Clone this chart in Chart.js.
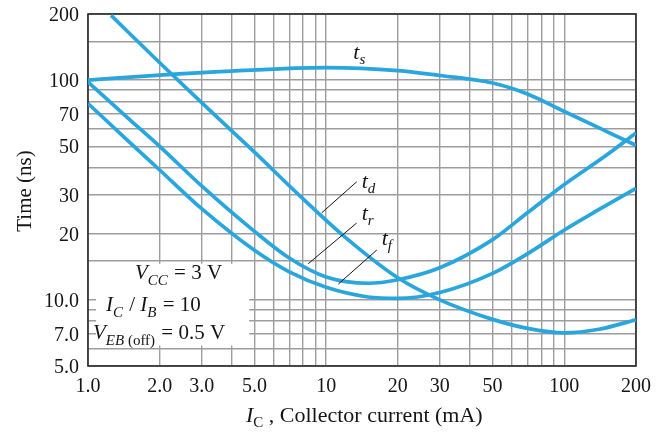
<!DOCTYPE html>
<html>
<head>
<meta charset="utf-8">
<script src="https://cdn.jsdelivr.net/npm/chart.js@4.4.1/dist/chart.umd.min.js"></script>
<style>
  html, body { margin: 0; padding: 0; background: #fff; }
  #wrap { width: 663px; height: 433px; position: relative; }
</style>
</head>
<body>
<div id="wrap"><canvas id="c" width="663" height="433"></canvas></div>
<script>
// Switching times of the transistor versus collector current, log-log axes.

// Storage time t_s
const tsCurrent = [1, 2, 4, 10, 20, 30, 50, 70, 100, 150, 200];
const tsTime    = [100, 105.5, 110, 114, 110.5, 105, 97, 86.5, 72, 58.5, 50.5];

// Delay time t_d
const tdCurrent = [1.25, 2, 3, 5, 8, 12, 20, 30, 50, 70, 100, 140, 200];
const tdTime    = [197, 120, 79, 47, 28.8, 19.3, 12.6, 10.0, 8.15, 7.42, 7.08, 7.35, 8.12];

// Rise time t_r
const trCurrent = [1, 1.5, 2, 3, 5, 7, 10, 15, 20, 30, 50, 70, 100, 150, 200];
const trTime    = [98, 66, 50, 33, 20.5, 15.5, 12.7, 11.9, 12.35, 14.0, 18.8, 24.9, 33.5, 45.5, 57.5];

// Fall time t_f
const tfCurrent = [1, 1.5, 2, 3, 5, 7, 10, 15, 20, 30, 50, 70, 100, 140, 200];
const tfTime    = [78.3, 52, 39, 26, 16.8, 13.4, 11.4, 10.3, 10.15, 10.8, 13.2, 16.2, 20.8, 25.8, 32.2];

// Grid lines and labelled ticks
const xGrid = [1, 2, 3, 4, 5, 6, 7, 8, 9, 10, 20, 30, 40, 50, 60, 70, 80, 90, 100, 200];
const yGrid = [5, 6, 7, 8, 9, 10, 15, 20, 30, 40, 50, 60, 70, 80, 90, 100, 150, 200];
const xTickValues = [1, 2, 3, 5, 10, 20, 30, 50, 100, 200];
const xTickLabels = ['1.0', '2.0', '3.0', '5.0', '10', '20', '30', '50', '100', '200'];
const yTickValues = [5, 7, 10, 20, 30, 50, 70, 100, 200];
const yTickLabels = ['5.0', '7.0', '10.0', '20', '30', '50', '70', '100', '200'];

const SERIF = '"Liberation Serif", "Times New Roman", serif';
const INK = '#151515';
const CURVE = '#2aa6de';

function points(xs, ys) { return xs.map((x, i) => ({ x: x, y: ys[i] })); }

// Draw a run of text pieces with their own fonts and vertical offsets
function richText(ctx, x, y, parts) {
  let cx = x;
  ctx.textAlign = 'left';
  ctx.textBaseline = 'alphabetic';
  for (const p of parts) {
    ctx.font = p.font;
    ctx.fillText(p.t, cx, y + (p.dy || 0));
    cx += ctx.measureText(p.t).width + (p.gap || 0);
  }
}

const it = s => 'italic ' + s + 'px ' + SERIF;
const up = s => s + 'px ' + SERIF;

const overlay = {
  id: 'overlay',
  beforeDatasetsDraw(chart) {
    const { ctx, chartArea: a, scales: { x, y } } = chart;
    ctx.save();
    // white panel behind the test conditions
    const bx0 = a.left + 8, bx1 = x.getPixelForValue(4.75);
    const by0 = y.getPixelForValue(14.6), by1 = y.getPixelForValue(6.2);
    ctx.fillStyle = '#fff';
    ctx.fillRect(bx0, by0, bx1 - bx0, by1 - by0);
    // plot frame
    ctx.strokeStyle = '#2a2a2a';
    ctx.lineWidth = 1.6;
    ctx.strokeRect(a.left, a.top, a.right - a.left, a.bottom - a.top);
    ctx.restore();
  },
  afterDatasetsDraw(chart) {
    const { ctx, chartArea: a, scales: { x, y } } = chart;
    ctx.save();
    ctx.fillStyle = INK;

    // tick labels
    ctx.font = up(20);
    ctx.textBaseline = 'alphabetic';
    ctx.textAlign = 'center';
    xTickValues.forEach((v, i) => ctx.fillText(xTickLabels[i], x.getPixelForValue(v), a.bottom + 25.5));
    ctx.textAlign = 'right';
    yTickValues.forEach((v, i) => ctx.fillText(yTickLabels[i], a.left - 9, y.getPixelForValue(v) + 7));

    // axis titles
    richText(ctx, 246, 422, [
      { t: 'I', font: it(22) },
      { t: 'C', font: up(15), dy: 5 },
      { t: ' , Collector current (mA)', font: up(22) }
    ]);
    ctx.save();
    ctx.translate(30.5, 191);
    ctx.rotate(-Math.PI / 2);
    ctx.font = up(21);
    ctx.textAlign = 'center';
    ctx.fillText('Time (ns)', 0, 0);
    ctx.restore();

    // test conditions
    richText(ctx, a.left + 47, a.top + 265, [
      { t: 'V', font: it(21) },
      { t: 'CC', font: it(15), dy: 6, gap: 1 },
      { t: ' = 3 V', font: up(21) }
    ]);
    richText(ctx, a.left + 18, a.top + 297, [
      { t: 'I', font: it(21) },
      { t: 'C', font: it(15), dy: 6, gap: 1 },
      { t: ' / ', font: up(21) },
      { t: 'I', font: it(21) },
      { t: 'B', font: it(15), dy: 6, gap: 1 },
      { t: ' = 10', font: up(21) }
    ]);
    richText(ctx, a.left + 5, a.top + 325, [
      { t: 'V', font: it(21) },
      { t: 'EB', font: it(15), dy: 6 },
      { t: ' (off)', font: up(15), dy: 6, gap: 1 },
      { t: ' = 0.5 V', font: up(21) }
    ]);

    // curve names
    const tsX = x.getPixelForValue(13.0), tsY = y.getPixelForValue(125);
    richText(ctx, tsX, tsY, [{ t: 't', font: it(22) }, { t: 's', font: it(15), dy: 5 }]);

    const leaders = [
      { end: [9.58, 24.9], off: [35, -31], txt: [5, 6], sub: 'd' },
      { end: [8.41, 14.6], off: [48.4, -40.7], txt: [5, -3], sub: 'r' },
      { end: [11.25, 11.8], off: [38.4, -34], txt: [5, -5], sub: 'f' }
    ];
    ctx.strokeStyle = INK;
    ctx.lineWidth = 1;
    for (const l of leaders) {
      const ex = x.getPixelForValue(l.end[0]), ey = y.getPixelForValue(l.end[1]);
      const sx = ex + l.off[0], sy = ey + l.off[1];
      ctx.beginPath();
      ctx.moveTo(ex, ey);
      ctx.lineTo(sx, sy);
      ctx.stroke();
      richText(ctx, sx + l.txt[0], sy + l.txt[1], [{ t: 't', font: it(22) }, { t: l.sub, font: it(15), dy: 5 }]);
    }
    ctx.restore();
  }
};

const lineStyle = {
  borderColor: CURVE,
  borderWidth: 3.7,
  pointRadius: 0,
  fill: false,
  cubicInterpolationMode: 'monotone'
};

const gridStyle = { color: '#9d9d9d', lineWidth: 1.4, drawTicks: false };

new Chart(document.getElementById('c'), {
  type: 'line',
  data: {
    datasets: [
      Object.assign({ label: 't_s', data: points(tsCurrent, tsTime) }, lineStyle),
      Object.assign({ label: 't_d', data: points(tdCurrent, tdTime) }, lineStyle),
      Object.assign({ label: 't_r', data: points(trCurrent, trTime) }, lineStyle),
      Object.assign({ label: 't_f', data: points(tfCurrent, tfTime) }, lineStyle)
    ]
  },
  options: {
    responsive: false,
    animation: false,
    devicePixelRatio: 1,
    layout: { padding: { left: 88, top: 14, right: 27, bottom: 67 } },
    plugins: { legend: { display: false }, tooltip: { enabled: false } },
    scales: {
      x: {
        type: 'logarithmic', min: 1, max: 200,
        ticks: { display: false },
        grid: gridStyle,
        border: { display: false },
        afterBuildTicks: s => { s.ticks = xGrid.map(v => ({ value: v })); }
      },
      y: {
        type: 'logarithmic', min: 5, max: 200,
        ticks: { display: false },
        grid: gridStyle,
        border: { display: false },
        afterBuildTicks: s => { s.ticks = yGrid.map(v => ({ value: v })); }
      }
    }
  },
  plugins: [overlay]
});
</script>
</body>
</html>
